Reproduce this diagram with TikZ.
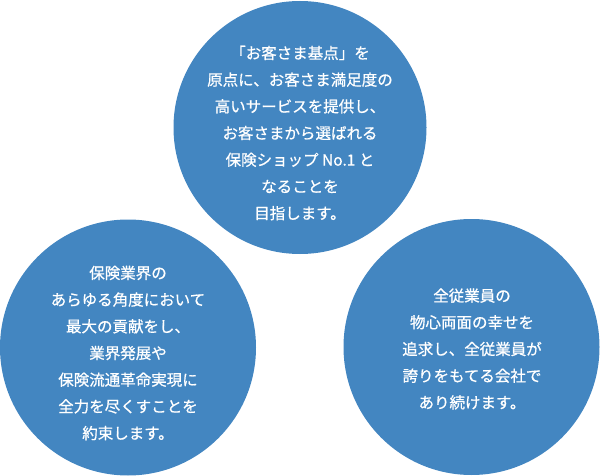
\documentclass[tikz,border=0pt]{standalone}
\usepackage{fontspec}
\usepackage{xcolor}
\newfontfamily\jpfont[FakeBold=0.7]{Noto Sans CJK JP}
\definecolor{circleblue}{RGB}{67,134,193}

\tikzset{
  bubble/.style={circle, fill=circleblue, inner sep=0pt, outer sep=0pt},
  motto/.style={text=white, align=center, inner sep=0pt,
    font=\jpfont\fontsize{15.5pt}{26.7pt}\selectfont}
}

\begin{document}
\begin{tikzpicture}[x=1pt,y=-1pt]
\useasboundingbox (0,0) rectangle (600,476);

\node[bubble, minimum size=253pt] (top) at (300,127.5) {};
\node[bubble, minimum size=256pt] (left) at (128,347.5) {};
\node[bubble, minimum size=256pt] (right) at (471.5,347) {};

\node[motto] (topmotto) at (300,133) {「お客さま基点」を\\原点に、お客さま満足度の\\高いサービスを提供し、\\お客さまから選ばれる\\保険ショップ No.1 と\\なることを\\目指します。};
\node[motto] (leftmotto) at (128,353) {保険業界の\\あらゆる角度において\\最大の貢献をし、\\業界発展や\\保険流通革命実現に\\全力を尽くすことを\\約束します。};
\node[motto] (rightmotto) at (472,349) {全従業員の\\物心両面の幸せを\\追求し、全従業員が\\誇りをもてる会社で\\あり続けます。};
\end{tikzpicture}
\end{document}
